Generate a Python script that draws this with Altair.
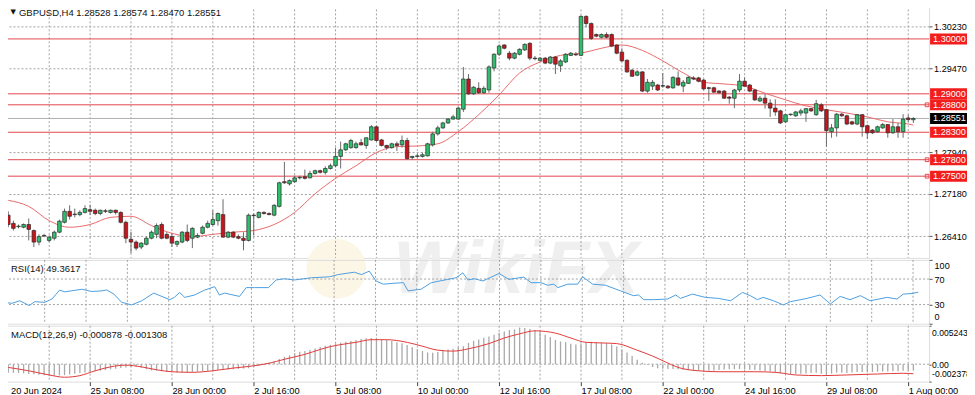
import altair as alt
import pandas as pd

# ---------------- price data (H4 candles, bar index 0 = 20 Jun 16:00) ----------------
opens = [
1.2679,1.2664,1.2658,1.2657,1.2662,1.2651,1.2630,1.2641,1.2633,1.2637,
1.2648,1.2666,1.2686,1.2680,1.2680,1.2684,1.2689,1.2688,1.2682,1.2687,
1.2684,1.2688,1.2684,1.2666,1.2635,1.2630,1.2621,1.2626,1.2637,1.2644,
1.2662,1.2644,1.2640,1.2626,1.2630,1.2648,1.2637,1.2639,1.2646,1.2657,
1.2662,1.2669,1.2680,1.2639,1.2648,1.2640,1.2637,1.2633,1.2679,1.2675,
1.2684,1.2682,1.2679,1.2695,1.2740,1.2736,1.2740,1.2747,1.2749,1.2747,
1.2755,1.2760,1.2757,1.2764,1.2769,1.2786,1.2798,1.2802,1.2802,1.2811,
1.2806,1.2816,1.2840,1.2816,1.2806,1.2802,1.2809,1.2807,1.2815,1.2784,
1.2786,1.2786,1.2787,1.2807,1.2827,1.2838,1.2847,1.2854,1.2854,1.2872,
1.2927,1.2900,1.2910,1.2902,1.2907,1.2947,1.2972,1.2989,1.2974,1.2965,
1.2972,1.2980,1.2992,1.2965,1.2961,1.2965,1.2956,1.2967,1.2951,1.2958,
1.2970,1.2972,1.2970,1.3041,1.3028,1.3008,1.3003,1.3008,1.3008,1.2989,
1.2976,1.2961,1.2943,1.2934,1.2940,1.2905,1.2914,1.2916,1.2914,1.2914,
1.2911,1.2929,1.2914,1.2919,1.2929,1.2929,1.2925,1.2911,1.2911,1.2905,
1.2905,1.2894,1.2892,1.2907,1.2923,1.2916,1.2907,1.2887,1.2892,1.2883,
1.2874,1.2869,1.2849,1.2862,1.2860,1.2865,1.2865,1.2873,1.2862,1.2880,
1.2871,1.2831,1.2838,1.2863,1.2860,1.2849,1.2845,1.2862,1.2842,1.2834,
1.2831,1.2838,1.2844,1.2829,1.2840,1.2831,1.2856,1.28528]

highs = [
1.2686,1.2669,1.2662,1.2664,1.2673,1.2653,1.2644,1.2645,1.2642,1.2651,
1.2671,1.2691,1.2697,1.2691,1.2688,1.2697,1.2698,1.2691,1.2689,1.2690,
1.2689,1.2689,1.2686,1.2669,1.2649,1.2633,1.2630,1.2640,1.2651,1.2664,
1.2666,1.2648,1.2646,1.2633,1.2650,1.2662,1.2657,1.2646,1.2660,1.2669,
1.2688,1.2684,1.2708,1.2650,1.2650,1.2644,1.2648,1.2682,1.2682,1.2686,
1.2686,1.2684,1.2699,1.2740,1.2776,1.2744,1.2751,1.2751,1.2762,1.2760,
1.2762,1.2762,1.2768,1.2773,1.2802,1.2813,1.2811,1.2818,1.2813,1.2818,
1.2820,1.2843,1.2842,1.2818,1.2807,1.2811,1.2813,1.2824,1.2820,1.2787,
1.2791,1.2793,1.2811,1.2831,1.2842,1.2849,1.2856,1.2862,1.2876,1.2949,
1.2936,1.2914,1.2921,1.2914,1.2952,1.2974,1.2990,1.2990,1.2978,1.2976,
1.2983,1.2992,1.2994,1.2969,1.2967,1.2967,1.2969,1.2969,1.2963,1.2974,
1.2976,1.2976,1.3043,1.3043,1.3030,1.3010,1.3010,1.3012,1.3010,1.2990,
1.2983,1.2963,1.2945,1.2943,1.2941,1.2927,1.2925,1.2918,1.2938,1.2916,
1.2932,1.2941,1.2925,1.2932,1.2932,1.2931,1.2927,1.2913,1.2913,1.2907,
1.2907,1.2896,1.2909,1.2936,1.2930,1.2918,1.2909,1.2896,1.2900,1.2890,
1.2890,1.2871,1.2863,1.2864,1.2869,1.2873,1.2874,1.2874,1.2889,1.2883,
1.2873,1.2845,1.2865,1.2865,1.2862,1.2851,1.2863,1.2863,1.2844,1.2836,
1.2842,1.2847,1.2845,1.2854,1.2847,1.2863,1.2862,1.28574]

lows = [
1.2657,1.2651,1.2655,1.2655,1.2633,1.2621,1.2624,1.2639,1.2630,1.2633,
1.2646,1.2664,1.2671,1.2675,1.2677,1.2682,1.2679,1.2679,1.2679,1.2683,
1.2682,1.2680,1.2664,1.2628,1.2610,1.2615,1.2617,1.2624,1.2635,1.2637,
1.2635,1.2635,1.2621,1.2621,1.2628,1.2630,1.2619,1.2637,1.2644,1.2655,
1.2660,1.2660,1.2638,1.2637,1.2637,1.2635,1.2615,1.2631,1.2642,1.2673,
1.2680,1.2679,1.2677,1.2693,1.2736,1.2733,1.2738,1.2744,1.2744,1.2746,
1.2753,1.2755,1.2753,1.2762,1.2766,1.2764,1.2796,1.2800,1.2800,1.2806,
1.2800,1.2815,1.2813,1.2804,1.2798,1.2800,1.2796,1.2802,1.2780,1.2780,
1.2784,1.2784,1.2786,1.2804,1.2824,1.2836,1.2845,1.2853,1.2853,1.2867,
1.2898,1.2898,1.2900,1.2900,1.2902,1.2941,1.2969,1.2981,1.2961,1.2963,
1.2970,1.2978,1.2961,1.2961,1.2959,1.2954,1.2954,1.2936,1.2940,1.2956,
1.2969,1.2969,1.2969,1.3021,1.2998,1.3003,1.3001,1.3001,1.2985,1.2972,
1.2958,1.2938,1.2931,1.2932,1.2903,1.2902,1.2907,1.2905,1.2911,1.2909,
1.2909,1.2914,1.2903,1.2918,1.2925,1.2921,1.2907,1.2887,1.2902,1.2900,
1.2891,1.2882,1.2874,1.2903,1.2913,1.2903,1.2887,1.2885,1.2873,1.2858,
1.2860,1.2845,1.2847,1.2860,1.2858,1.2860,1.2849,1.2867,1.2860,1.2867,
1.2804,1.2820,1.2822,1.2858,1.2843,1.2843,1.2843,1.2822,1.2818,1.2827,
1.2829,1.2836,1.2820,1.2827,1.2820,1.2820,1.2849,1.28470]

closes = [
1.2662,1.2655,1.2659,1.2662,1.2653,1.2630,1.2640,1.2642,1.2639,1.2648,
1.2668,1.2686,1.2677,1.2681,1.2684,1.2691,1.2686,1.2682,1.2688,1.2686,
1.2688,1.2684,1.2666,1.2637,1.2630,1.2619,1.2628,1.2637,1.2648,1.2660,
1.2637,1.2637,1.2628,1.2631,1.2648,1.2633,1.2655,1.2642,1.2657,1.2664,
1.2671,1.2682,1.2639,1.2648,1.2639,1.2637,1.2633,1.2679,1.2678,1.2684,
1.2682,1.2680,1.2697,1.2738,1.2738,1.2742,1.2747,1.2748,1.2746,1.2755,
1.2760,1.2757,1.2764,1.2769,1.2786,1.2798,1.2809,1.2815,1.2809,1.2807,
1.2820,1.2840,1.2815,1.2806,1.2802,1.2809,1.2806,1.2815,1.2782,1.2786,
1.2787,1.2789,1.2809,1.2827,1.2838,1.2847,1.2854,1.2858,1.2874,1.2927,
1.2900,1.2912,1.2902,1.2910,1.2949,1.2972,1.2987,1.2983,1.2965,1.2974,
1.2981,1.2990,1.2965,1.2964,1.2965,1.2956,1.2967,1.2954,1.2960,1.2972,
1.2974,1.2971,1.3041,1.3028,1.3001,1.3005,1.3008,1.3003,1.2987,1.2974,
1.2960,1.2940,1.2932,1.2940,1.2905,1.2921,1.2921,1.2907,1.2915,1.2911,
1.2930,1.2916,1.2921,1.2930,1.2927,1.2923,1.2909,1.2910,1.2903,1.2902,
1.2892,1.2892,1.2907,1.2923,1.2914,1.2905,1.2889,1.2892,1.2883,1.2874,
1.2867,1.2847,1.2862,1.2863,1.2867,1.2869,1.2873,1.2869,1.2882,1.2869,
1.2833,1.2838,1.2863,1.2860,1.2845,1.2845,1.2862,1.2840,1.2829,1.2829,
1.2840,1.2844,1.2829,1.2840,1.2831,1.2854,1.2853,1.28551]

# moving average
ma_bar = [0,4,8,12,16,20,24,28,32,36,40,44,48,52,56,60,64,68,72,76,80,84,88,92,96,
          100,104,108,112,116,120,124,128,132,136,140,144,148,152,156,160,164,168,172,176,177]
ma_val = [1.2706,1.2695,1.2669,1.2657,1.2662,1.2675,1.2677,1.2660,1.2646,1.2640,1.2644,
          1.2648,1.2651,1.2662,1.2684,1.2718,1.2746,1.2769,1.2793,1.2804,1.2805,1.2809,
          1.2831,1.2862,1.2898,1.2938,1.2958,1.2970,1.2974,1.2983,1.2989,1.2979,1.2960,
          1.2938,1.2921,1.2918,1.2914,1.2901,1.2889,1.2878,1.2871,1.2865,1.2858,1.2849,
          1.2845,1.2843]

levels = [1.30000, 1.29000, 1.28800, 1.28300, 1.27800, 1.27500]
level_marked = [False, False, True, False, True, True]
last_price = 1.28551
price_ticks = [1.30230, 1.29470, 1.27940, 1.27180, 1.26410]

# ---------------- RSI(14) ----------------
rsi_bar = [0,1.7,3.2,5.0,6.1,8.0,9.4,10.9,11.9,15.2,17.1,19.1,20.0,21.4,22.9,24.8,26.8,29.1,30.3,32.2,
           33.1,34.1,35.1,37.0,38.9,40.9,41.8,42.8,45.7,47.0,48.6,51.3,52.8,54.4,56.3,59.6,63.1,64.8,67.9,69.3,
           70.8,72.1,73.5,75.4,77.4,78.3,80.8,82.8,86.0,87.6,88.9,89.9,91.1,92.8,95.9,97.8,100.7,102.1,104.0,105.3,
           106.5,107.3,109.2,111.1,112.1,114.0,116.5,119.4,121.9,122.9,123.9,125.8,128.5,130.1,131.0,133.3,135.8,138.4,140.7,143.0,
           144.5,145.9,147.0,149.0,150.9,152.3,155.5,158.0,160.0,161.9,163.8,165.8,167.7,171.0,172.9,174.1,175.8,177]
rsi_val = [33.5,32,36,28.5,34.6,33.5,38.7,52.6,50,54,50.5,51.5,53,46.4,33.6,29.5,36,48,44,37.7,
           41.3,49,41.3,45,52.6,58,45,48,42.8,56.6,56.6,56.6,68.5,70.5,68.5,72,73.5,77,80.7,77,
           82.3,67,62,63.3,64.4,51.5,54,64.3,69.5,72,79.7,68.5,70.5,67,78.7,69.5,73,64.3,64.3,60.3,
           62,56.6,62,62,73.5,62,60.3,51.5,44,45,37.7,37.7,38.7,45,39.7,46.4,41.3,39.7,36,49,
           44,37.7,41.3,36,29.5,34.6,39.7,45,31,42.8,37.7,44,36,41.3,38.7,46.4,47.4,49.36]
rsi_ticks = [100, 70, 30, 0]
rsi_levels = [70, 30]

# ---------------- MACD(12,26,9) ----------------
macd_hist = [
-0.00116,-0.00118,-0.00120,-0.00125,-0.00134,-0.00138,-0.00145,-0.00150,-0.00154,-0.00154,
-0.00152,-0.00150,-0.00140,-0.00130,-0.00120,-0.00112,-0.00105,-0.00095,-0.00090,-0.00080,
-0.00070,-0.00062,-0.00052,-0.00044,-0.00038,-0.00036,-0.00050,-0.00070,-0.00085,-0.00090,
-0.00095,-0.00105,-0.00110,-0.00112,-0.00112,-0.00110,-0.00108,-0.00104,-0.00100,-0.00095,
-0.00088,-0.00080,-0.00076,-0.00074,-0.00070,-0.00066,-0.00060,-0.00055,-0.00030,-0.00020,
-0.00005,0.00020,0.00035,0.00070,0.00100,0.00120,0.00150,0.00170,0.00180,0.00195,
0.00215,0.00235,0.00250,0.00265,0.00280,0.00295,0.00305,0.00315,0.00330,0.00345,
0.00355,0.00357,0.00350,0.00340,0.00330,0.00315,0.00300,0.00285,0.00260,0.00230,
0.00205,0.00180,0.00160,0.00156,0.00165,0.00190,0.00200,0.00210,0.00230,0.00245,
0.00290,0.00320,0.00335,0.00360,0.00378,0.00400,0.00430,0.00445,0.00465,0.00475,
0.00500,0.00495,0.00480,0.00465,0.00450,0.00400,0.00370,0.00330,0.00310,0.00300,
0.00280,0.00270,0.00275,0.00300,0.00305,0.00300,0.00295,0.00285,0.00270,0.00240,
0.00200,0.00160,0.00110,0.00060,0.00020,-0.00010,-0.00040,-0.00055,-0.00062,-0.00065,
-0.00065,-0.00070,-0.00075,-0.00082,-0.00088,-0.00090,-0.00092,-0.00088,-0.00085,-0.00080,
-0.00072,-0.00070,-0.00068,-0.00066,-0.00070,-0.00075,-0.00080,-0.00085,-0.00092,-0.00100,
-0.00115,-0.00125,-0.00130,-0.00135,-0.00133,-0.00130,-0.00128,-0.00120,-0.00118,-0.00130,
-0.00140,-0.00128,-0.00115,-0.00118,-0.00120,-0.00115,-0.00105,-0.00108,-0.00110,-0.00108,
-0.00102,-0.00098,-0.00100,-0.00096,-0.00095,-0.00088,-0.00088,-0.000878]
sig_bar = [0,4,8,11,14,17,20,23,26,29,32,36,40,44,47,51,54,58,61,63,65,68,71,74,78,81,84,87,90,94,
           97,100,103,107,110,113,116,119,123,126,128.5,131,135,139,146,150,154,159,164,170,175,177]
sig_val = [-0.00044,-0.00090,-0.00147,-0.00178,-0.00156,-0.00090,-0.00036,-0.00013,-0.00036,-0.00076,
           -0.00103,-0.00111,-0.00090,-0.00053,-0.00031,0.00013,0.00067,0.00134,0.00201,0.00240,
           0.00267,0.00298,0.00334,0.00334,0.00298,0.00245,0.00191,0.00178,0.00210,0.00281,
           0.00357,0.00414,0.00455,0.00424,0.00357,0.00298,0.00290,0.00281,0.00190,0.00111,
           0.00031,-0.00044,-0.00090,-0.00103,-0.00103,-0.00111,-0.00147,-0.00156,-0.00147,-0.00134,
           -0.00124,-0.001308]
macd_max, macd_min = 0.005243, -0.002378
macd_ticks = [0.005243, 0.0, -0.002378]
macd_tick_labels = ["0.005243", "0.00", "-0.002378"]

# ---------------- time axis ----------------
grid_bars = [8,16,24,32,40,48,56,64,72,80,88,96,104,112,120,128,136,144,152,160,168,176]
label_bars = [0,16,32,48,64,80,96,112,128,144,160,176]
date_labels = ["20 Jun 2024","25 Jun 08:00","28 Jun 00:00","2 Jul 16:00","5 Jul 08:00",
               "10 Jul 00:00","12 Jul 16:00","17 Jul 08:00","22 Jul 00:00","24 Jul 16:00",
               "29 Jul 08:00","1 Aug 00:00"]

header_price = "GBPUSD,H4  1.28528 1.28574 1.28470 1.28551"
header_rsi = "RSI(14) 49.3617"
header_macd = "MACD(12,26,9) -0.000878 -0.001308"

# ---------------- styling ----------------
W = 929
FONT = "Liberation Sans"
GREEN, RED_C, OUTLINE = "#2fbf6c", "#c4161c", "#2b2b2b"
LEVEL = "#e2474e"
BOX_RED = "#f21d1d"
GRID = "#a3a3a3"
LBL = 9.1

candles = pd.DataFrame({"i": list(range(len(closes))), "o": opens, "h": highs, "l": lows, "c": closes})
ma_df = pd.DataFrame({"i": ma_bar, "v": ma_val})
lvl_df = pd.DataFrame({"p": levels, "m": level_marked})
last_df = pd.DataFrame({"p": [last_price]})
grid_df = pd.DataFrame({"i": grid_bars})
rsi_df = pd.DataFrame({"i": rsi_bar, "v": rsi_val})
rsi_lvl_df = pd.DataFrame({"v": rsi_levels})
hist_df = pd.DataFrame({"i": list(range(len(macd_hist))), "v": macd_hist, "z": [0.0] * len(macd_hist)})
sig_df = pd.DataFrame({"i": sig_bar, "v": sig_val})
zero_df = pd.DataFrame({"v": [0.0]})
first_lbl_df = pd.DataFrame({"t": [date_labels[0]]})
one = pd.DataFrame({"k": [0]})

xs = alt.Scale(domain=[-0.25, 179.1], nice=False, zero=False)


def X(axis=None):
    return alt.X("i:Q", scale=xs, axis=axis)


price_scale = alt.Scale(domain=[1.26012, 1.30683], nice=False, zero=False)
price_axis = alt.Axis(orient="right", values=price_ticks, format=".5f", grid=True, gridColor=GRID,
                      gridDash=[2, 2], gridWidth=1, tickSize=3, tickColor="#555", labelFontSize=LBL,
                      labelColor="#000", labelPadding=1.5, domain=False, title=None, zindex=0,
                      labelFont=FONT)


def PY(field):
    return alt.Y(f"{field}:Q", scale=price_scale, axis=price_axis)


def grid_rules(axis=None):
    return alt.Chart(grid_df).mark_rule(color=GRID, strokeDash=[2, 2], strokeWidth=1).encode(x=X(axis))


watermark = alt.Chart(one).mark_text(text="WikiFX", fontSize=74, fontWeight="bold", fontStyle="italic",
                                     color="#efefef", align="center", baseline="alphabetic").encode(
    x=alt.value(515), y=alt.value(292))
wm_logo = alt.Chart(one).mark_point(shape="circle", size=3600, filled=True, color="#fcf6e6", opacity=1).encode(
    x=alt.value(335), y=alt.value(268))

level_rules = alt.Chart(lvl_df).mark_rule(color=LEVEL, strokeWidth=1).encode(y=PY("p"))
last_rule = alt.Chart(last_df).mark_rule(color="#b0b0b0", strokeWidth=1).encode(y=PY("p"))
ma_line = alt.Chart(ma_df).mark_line(color="#e86a6a", strokeWidth=1, interpolate="monotone").encode(
    x=X(), y=PY("v"))
wicks = alt.Chart(candles).mark_rule(color="#6a6a6a", strokeWidth=1).encode(x=X(), y=PY("l"), y2="h:Q")
bodies = alt.Chart(candles).transform_calculate(
    d="datum.c >= datum.o ? 'up' : 'down'"
).mark_bar(width=3.6, stroke=OUTLINE, strokeWidth=0.7, orient="vertical").encode(
    x=X(), y=PY("o"), y2="c:Q",
    fill=alt.Fill("d:N", scale=alt.Scale(domain=["up", "down"], range=[GREEN, RED_C]), legend=None))

markers_l = alt.Chart(lvl_df).transform_filter("datum.m").mark_point(
    shape="square", size=14, filled=False, color=LEVEL, strokeWidth=1, opacity=1).encode(
    x=alt.value(3), y=PY("p"))
markers_r = alt.Chart(lvl_df).transform_filter("datum.m").mark_point(
    shape="square", size=14, filled=False, color=LEVEL, strokeWidth=1, opacity=1).encode(
    x=alt.value(927), y=PY("p"))

BOX = "M-1,-0.25L1,-0.25L1,0.25L-1,0.25Z"
boxes = alt.Chart(lvl_df).mark_point(shape=BOX, size=1936, filled=True, color=BOX_RED, opacity=1,
                                     strokeWidth=0).encode(x=alt.value(952), y=PY("p"))
box_text = alt.Chart(lvl_df).mark_text(align="left", baseline="middle", fontSize=LBL, color="white",
                                       font=FONT).encode(
    x=alt.value(933), y=PY("p"), text=alt.Text("p:Q", format=".5f"))
last_box = alt.Chart(last_df).mark_point(shape=BOX, size=1936, filled=True, color="#000000", opacity=1,
                                         strokeWidth=0).encode(x=alt.value(952), y=PY("p"))
last_text = alt.Chart(last_df).mark_text(align="left", baseline="middle", fontSize=LBL, color="white",
                                         font=FONT).encode(
    x=alt.value(933), y=PY("p"), text=alt.Text("p:Q", format=".5f"))

tri = alt.Chart(one).mark_text(text="▼", fontSize=7, font="DejaVu Sans", align="left", baseline="middle",
                               color="#111").encode(x=alt.value(8.5), y=alt.value(11))
head_p = alt.Chart(one).mark_text(text=header_price, fontSize=9.5, font=FONT, align="left", baseline="middle",
                                  color="#111").encode(x=alt.value(17), y=alt.value(11.5))

price = alt.layer(
    wm_logo, watermark, grid_rules(), level_rules, last_rule, ma_line, wicks, bodies,
    markers_l, markers_r, boxes, box_text, last_box, last_text, tri, head_p
).properties(width=W, height=257)

# RSI panel
rsi_scale = alt.Scale(domain=[0, 100], nice=False, zero=False)
rsi_axis = alt.Axis(orient="right", values=rsi_ticks, grid=False, tickSize=3, tickColor="#555",
                    labelFontSize=LBL, labelColor="#000", labelFlush=True, labelFlushOffset=-2,
                    labelPadding=2, domain=False, title=None, labelFont=FONT)
rsi_grid_h = alt.Chart(rsi_lvl_df).mark_rule(color=GRID, strokeDash=[2, 2]).encode(
    y=alt.Y("v:Q", scale=rsi_scale, axis=rsi_axis))
rsi_line = alt.Chart(rsi_df).mark_line(color="#4d9fe0", strokeWidth=1).encode(
    x=X(), y=alt.Y("v:Q", scale=rsi_scale, axis=rsi_axis))
head_r = alt.Chart(one).mark_text(text=header_rsi, fontSize=9.5, font=FONT, align="left", baseline="middle",
                                  color="#111").encode(x=alt.value(9), y=alt.value(9))
rsi = alt.layer(grid_rules(), rsi_grid_h, rsi_line, head_r).properties(width=W, height=64)

# MACD panel
macd_scale = alt.Scale(domain=[macd_min, macd_max], nice=False, zero=False)
label_expr_macd = ("datum.value > 0.001 ? '%s' : (datum.value < -0.001 ? '%s' : '%s')"
                   % (macd_tick_labels[0], macd_tick_labels[2], macd_tick_labels[1]))
macd_axis = alt.Axis(orient="right", values=macd_ticks, labelExpr=label_expr_macd, grid=False, tickSize=2,
                     tickColor="#555", labelFontSize=8.6, labelColor="#000", labelFlush=True,
                     labelFlushOffset=-3, labelPadding=0.5, domain=False, title=None, labelFont=FONT)
date_expr = "[" + ",".join("'%s'" % s for s in date_labels) + "][round(datum.value / 16)]"
x_axis = alt.Axis(values=label_bars[1:], labelExpr=date_expr, labelAlign="left", labelFontSize=9.3,
                  labelColor="#000", tickSize=4, tickColor="#444", grid=False, domain=False,
                  labelPadding=1, title=None, labelOverlap=False, labelFlush=False, labelFont=FONT)
macd_zero = alt.Chart(zero_df).mark_rule(color=GRID, strokeDash=[2, 2]).encode(
    y=alt.Y("v:Q", scale=macd_scale, axis=macd_axis))
hist = alt.Chart(hist_df).mark_bar(width=1.3, color="#a9a9a9", orient="vertical").encode(
    x=X(x_axis), y=alt.Y("v:Q", scale=macd_scale, axis=macd_axis), y2="z:Q")
sig_line = alt.Chart(sig_df).mark_line(color="#e23a3a", strokeWidth=1, interpolate="monotone").encode(
    x=X(x_axis), y=alt.Y("v:Q", scale=macd_scale, axis=macd_axis))
head_m = alt.Chart(one).mark_text(text=header_macd, fontSize=9.5, font=FONT, align="left", baseline="middle",
                                  color="#111").encode(x=alt.value(9), y=alt.value(9))
first_lbl = alt.Chart(first_lbl_df).mark_text(fontSize=9.3, font=FONT, align="left", baseline="top",
                                              color="#000").encode(
    x=alt.value(9), y=alt.value(61), text="t:N")
macd = alt.layer(grid_rules(x_axis), macd_zero, hist, sig_line, head_m, first_lbl).properties(width=W, height=56)

chart = alt.vconcat(price, rsi, macd, spacing=2, bounds="flush").properties(
    padding={"left": -8, "top": -8, "right": -8, "bottom": 0},
    background="white",
).configure_view(stroke="#555555", strokeWidth=1).configure(font=FONT)

chart.save("out.html", embed_options={"renderer": "svg", "actions": False})
